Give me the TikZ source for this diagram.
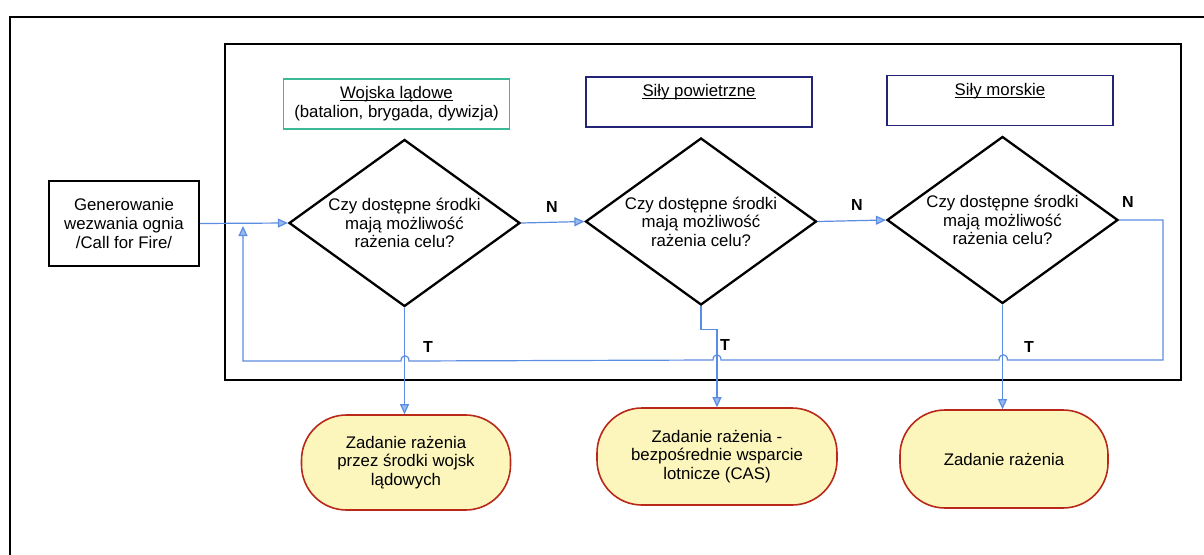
\documentclass[tikz,border=0pt]{standalone}
\usepackage{fontspec}
\setmainfont{Liberation Sans}
\usetikzlibrary{arrows.meta,shapes.geometric}
\definecolor{flowblue}{RGB}{90,140,225}
\definecolor{tipfill}{RGB}{150,185,240}
\definecolor{termfill}{RGB}{252,246,188}
\definecolor{termline}{RGB}{185,40,25}
\definecolor{landline}{RGB}{60,185,150}
\definecolor{navyline}{RGB}{35,35,120}

\begin{document}
\begin{tikzpicture}[x={(1pt,0)}, y={(0,-1pt)},
  txt/.style={font=\fontsize{16.8}{18.6}\selectfont, align=center, inner sep=0pt},
  title/.style={txt, inner sep=0pt, path picture={}},
  lbl/.style={font=\fontsize{16}{18}\selectfont\bfseries, inner sep=0pt},
  decision/.style={diamond, draw, line width=2.3pt, minimum width=231pt, minimum height=167pt, inner sep=0pt},
  terminal/.style={draw=termline, fill=termfill, line width=1.6pt, rounded corners=45pt, inner sep=0pt},
  procbox/.style={draw, line width=2pt, inner sep=0pt},
  header/.style={draw=#1, line width=1.6pt, minimum width=226pt, minimum height=50pt, inner sep=0pt},
  uline/.style={line width=1pt},
  flow/.style={draw=flowblue, line width=1.2pt},
  arr/.style={-{Triangle[length=10pt,width=9pt,fill=tipfill]}}
]
\useasboundingbox (0,0) rectangle (1204,554);
\clip (0,0) rectangle (1204,554);

% outer and inner frames
\draw[line width=2pt] (10,560) -- (10,17) -- (1215,17);
\draw[line width=2.3pt] (225,44) rectangle (1181,380);

% start box
\node[procbox, minimum width=150pt, minimum height=85pt] (gen) at (124,223.5) {};
\node[txt] at (gen) {Generowanie\\wezwania ognia\\/Call for Fire/};

% service headers
\node[header=landline] (h1) at (396.5,104) {};
\node[txt, anchor=base] (h1t) at (396.5,98) {Wojska lądowe};
\node[txt, anchor=base] at (396.5,117) {(batalion, brygada, dywizja)};
\draw[uline] ([yshift=-2.5pt]h1t.base west) -- ([yshift=-2.5pt]h1t.base east);
\node[header=navyline] (h2) at (699,102) {};
\node[txt, anchor=base] (h2t) at (699,96) {Siły powietrzne};
\draw[uline] ([yshift=-2.5pt]h2t.base west) -- ([yshift=-2.5pt]h2t.base east);
\node[header=navyline] (h3) at (1000,100.5) {};
\node[txt, anchor=base] (h3t) at (1000,95) {Siły morskie};
\draw[uline] ([yshift=-2.5pt]h3t.base west) -- ([yshift=-2.5pt]h3t.base east);

% decisions
\node[decision] (d1) at (404.5,223) {};
\node[txt] at (d1) {Czy dostępne środki\\mają możliwość\\rażenia celu?};
\node[decision] (d2) at (701,221.5) {};
\node[txt] at (d2) {Czy dostępne środki\\mają możliwość\\rażenia celu?};
\node[decision] (d3) at (1002.5,220) {};
\node[txt] at (d3) {Czy dostępne środki\\mają możliwość\\rażenia celu?};

% outcomes
\node[terminal, minimum width=209pt, minimum height=95pt] (t1) at (406,462.5) {};
\node[txt] at (t1) {Zadanie rażenia\\przez środki wojsk\\lądowych};
\node[terminal, minimum width=240pt, minimum height=97pt] (t2) at (717,456.5) {};
\node[txt] at (t2) {Zadanie rażenia -\\bezpośrednie wsparcie\\lotnicze (CAS)};
\node[terminal, minimum width=208pt, minimum height=98pt] (t3) at (1004,459) {};
\node[txt] at (t3) {Zadanie rażenia};

% connectors
\coordinate (loopR) at (1163,360);
\coordinate (loopL) at (243,361);
\coordinate (back) at (243,226);

\draw[flow, arr] (gen.east) -- (d1.west);
\draw[flow, arr] (d1.east) -- (d2.west);
\draw[flow, arr] (d2.east) -- (d3.west);

% "N" from the last decision returns to the first one
\draw[flow, arr] (d3.east) -| (loopR)
  -- (1007.5,360) .. controls (1007.5,353) and (999,353) .. (999,360)
  -- (721,360) .. controls (721,353) and (713,353) .. (713,360)
  -- (409,361) .. controls (409,354) and (401,354) .. (401,361)
  -- (loopL) -- (back);

% "T" branches
\draw[flow, arr] (d1.south) -- (d1.south |- t1.north);
\draw[flow, arr] (d2.south) -- ++(0,23) -| (t2.north);
\draw[flow, arr] (d3.south) -- (d3.south |- t3.north);

% branch labels
\node[lbl] at (552,207) {N};
\node[lbl] at (857,205) {N};
\node[lbl] at (1128,202) {N};
\node[lbl] at (428,347) {T};
\node[lbl] at (725,345) {T};
\node[lbl] at (1029,347) {T};
\end{tikzpicture}
\end{document}
